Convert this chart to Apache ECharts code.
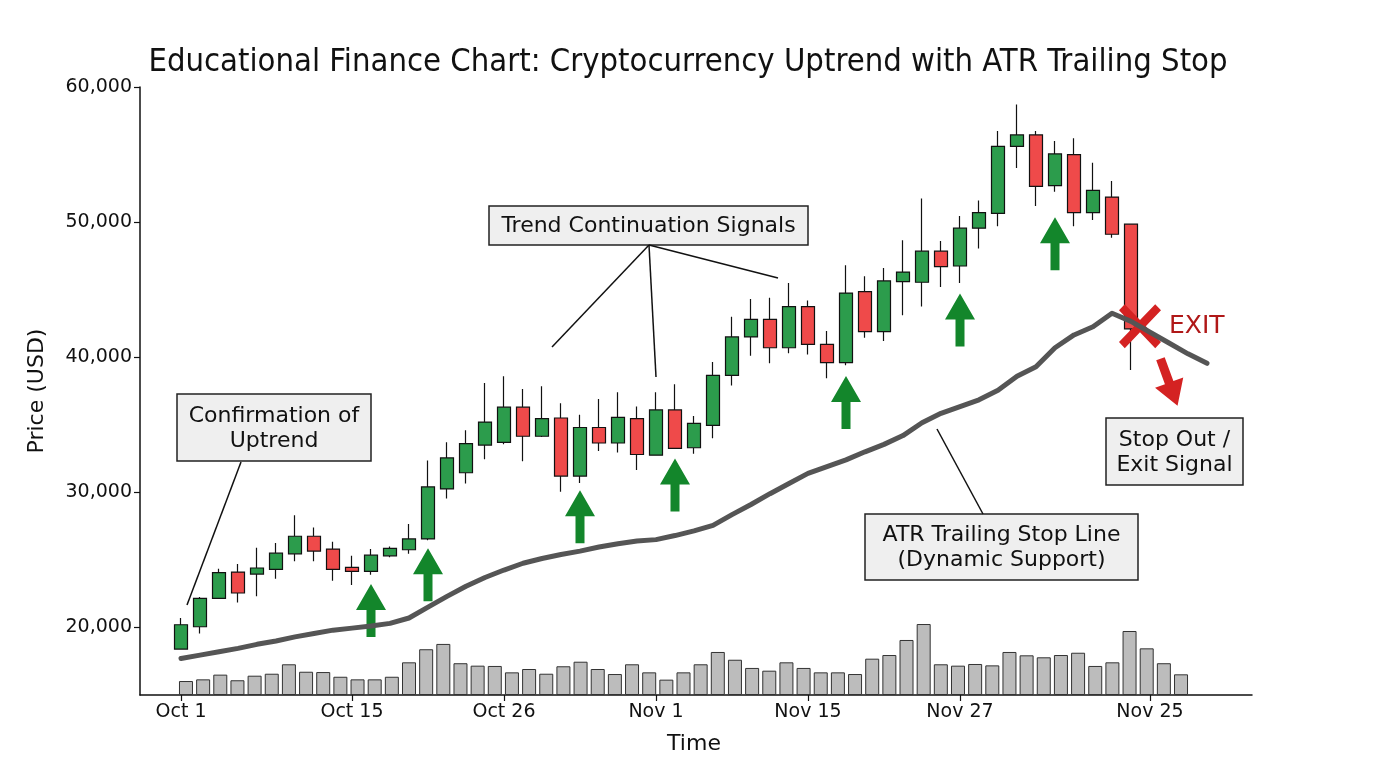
<!DOCTYPE html>
<html>
<head>
<meta charset="utf-8">
<title>Cryptocurrency Uptrend with ATR Trailing Stop</title>
<script src="https://cdn.jsdelivr.net/npm/echarts/dist/echarts.min.js"></script>
<style>
  html, body { margin: 0; padding: 0; background: #fff; }
  #chart { width: 1376px; height: 768px; }
</style>
</head>
<body>
<div id="chart"></div>
<script>
// x axis tick labels and the candle index each one sits on
var tickLabels = ['Oct 1', 'Oct 15', 'Oct 26', 'Nov 1', 'Nov 15', 'Nov 27', 'Nov 25'];
var tickIdx = [0, 9, 17, 25, 33, 41, 51];
var priceTicks = [20000, 30000, 40000, 50000, 60000];

// daily candles: open, close, low, high
var ohlc = [
  [18400, 20200, 18350, 20700],
  [20050, 22150, 19550, 22250],
  [22150, 24050, 22100, 24350],
  [24100, 22550, 21850, 24700],
  [23950, 24400, 22300, 25900],
  [24300, 25500, 23600, 26250],
  [25450, 26750, 24900, 28300],
  [26750, 25650, 24900, 27400],
  [25800, 24300, 23450, 26350],
  [24450, 24150, 23150, 25300],
  [24150, 25350, 23900, 25800],
  [25300, 25850, 25200, 26000],
  [25750, 26550, 25450, 27650],
  [26550, 30400, 26450, 32350],
  [30250, 32550, 29550, 33700],
  [31450, 33600, 30650, 34600],
  [33500, 35200, 32450, 38100],
  [33700, 36300, 33550, 38600],
  [36300, 34150, 32300, 37650],
  [34150, 35450, 34100, 37850],
  [35500, 31200, 30050, 36600],
  [31200, 34800, 30700, 35750],
  [34800, 33650, 33050, 36900],
  [33650, 35550, 32950, 37400],
  [35450, 32800, 31650, 36350],
  [32750, 36100, 32700, 37400],
  [36100, 33250, 33200, 38000],
  [33300, 35100, 32850, 35650],
  [34950, 38650, 34000, 39650],
  [38650, 41500, 37900, 43000],
  [41500, 42800, 40100, 44300],
  [42800, 40700, 39550, 44400],
  [40700, 43750, 40300, 45500],
  [43750, 40950, 40200, 44200],
  [40950, 39600, 38450, 41950],
  [39600, 44750, 39400, 46800],
  [44850, 41900, 41450, 46000],
  [41900, 45650, 41200, 46600],
  [45600, 46300, 43100, 48650],
  [45550, 47850, 43750, 51750],
  [47850, 46700, 45200, 48600],
  [46750, 49550, 45500, 50450],
  [49550, 50700, 48050, 51600],
  [50650, 55600, 49700, 56750],
  [55600, 56450, 54000, 58700],
  [56450, 52650, 51200, 56750],
  [52700, 55050, 52250, 56000],
  [55000, 50700, 49700, 56200],
  [50700, 52350, 50150, 54400],
  [51850, 49100, 48850, 53050],
  [49850, 42100, 39050, 49850]
];

// ATR trailing stop, one value per day (runs a few days past the last candle)
var atrStop = [
  17700, 17950, 18200, 18450, 18750, 19000, 19300, 19550, 19800, 19950,
  20100, 20300, 20700, 21500, 22300, 23050, 23700, 24250, 24750, 25100,
  25400, 25650, 25950, 26200, 26400, 26500, 26800, 27150, 27550, 28350,
  29100, 29900, 30650, 31400, 31900, 32400, 33000, 33550, 34200, 35150,
  35850, 36350, 36850, 37550, 38600, 39300, 40700, 41650, 42250, 43250,
  42650, 41850, 41050, 40250, 39550
];

// volume (thousands)
var volume = [
  0.92, 1.03, 1.34, 0.97, 1.27, 1.40, 2.02, 1.53, 1.51, 1.20,
  1.03, 1.03, 1.20, 2.15, 3.01, 3.36, 2.09, 1.93, 1.91, 1.49,
  1.71, 1.40, 1.89, 2.19, 1.71, 1.38, 2.02, 1.49, 1.01, 1.49,
  2.02, 2.83, 2.32, 1.78, 1.60, 2.15, 1.78, 1.49, 1.49, 1.38,
  2.39, 2.63, 3.62, 4.67, 2.02, 1.93, 2.04, 1.95, 2.83, 2.61,
  2.48, 2.63, 2.78, 1.91, 2.15, 4.21, 3.07, 2.09, 1.36
];

// continuation signals (candle index, arrow level)
var signalIdx = [10, 13, 21, 26, 35, 41, 46];
var signalPrice = [21250, 23900, 28200, 30550, 36650, 42750, 48400];
var exitIdx = 50, exitPrice = 42300;
var exitArrowIdx = 52, exitArrowPrice = 38150;

var days = atrStop.map(function (_, i) {
  var k = tickIdx.indexOf(i);
  return k >= 0 ? tickLabels[k] : '';
});

var FONT = 'DejaVu Sans';
var arrowPath = 'path://M15,0 L30,26 L19.5,26 L19.5,53 L10.5,53 L10.5,26 L0,26 Z';
var crossPath = 'path://M0,5.5 L5.5,0 L20,14.5 L34.5,0 L40,5.5 L25.5,20 L40,34.5 L34.5,40 L20,25.5 L5.5,40 L0,34.5 L14.5,20 Z';

function noteBox(x, y, w, h, text) {
  return {
    type: 'group', x: x, y: y, z: 100,
    children: [
      { type: 'rect', shape: { x: 0, y: 0, width: w, height: h },
        style: { fill: '#efefef', stroke: '#222', lineWidth: 1.5 } },
      { type: 'text', style: { text: text, x: w / 2, y: h / 2 + 1, align: 'center', verticalAlign: 'middle',
        fontSize: 22, fontFamily: FONT, fill: '#111', lineHeight: 25 } }
    ]
  };
}
function pointer(x1, y1, x2, y2) {
  return { type: 'line', z: 99, shape: { x1: x1, y1: y1, x2: x2, y2: y2 },
    style: { stroke: '#111', lineWidth: 1.5 } };
}

var chart = echarts.init(document.getElementById('chart'));
chart.setOption({
  backgroundColor: '#fff',
  animation: false,
  textStyle: { fontFamily: FONT },
  title: {
    text: 'Educational Finance Chart: Cryptocurrency Uptrend with ATR Trailing Stop',
    left: 'center', top: 41,
    textStyle: { fontSize: 32.5, fontWeight: 'normal', color: '#111', fontFamily: '"DejaVu Sans Condensed", "DejaVu Sans"' }
  },
  grid: [
    { left: 140, right: 124, top: 87, bottom: 73 },     // frame
    { left: 171.5, right: 159.5, top: 87, bottom: 73 }, // candles
    { left: 177.4, right: 186.4, top: 87, bottom: 73 }  // volume
  ],
  xAxis: [
    { gridIndex: 0, type: 'value', min: 0, max: 1,
      axisLine: { show: true, lineStyle: { color: '#111', width: 1.5 } },
      axisTick: { show: false }, axisLabel: { show: false }, splitLine: { show: false } },
    { gridIndex: 1, type: 'category', data: days, boundaryGap: true,
      axisLine: { show: false },
      axisTick: { show: true, alignWithLabel: true, length: 6,
        interval: function (i) { return tickIdx.indexOf(i) >= 0; },
        lineStyle: { color: '#111', width: 1.2 } },
      axisLabel: { interval: 0, fontSize: 19, color: '#111', margin: 8, fontFamily: FONT },
      splitLine: { show: false },
      name: 'Time', nameLocation: 'middle', nameGap: 38,
      nameTextStyle: { fontSize: 22, color: '#111', fontFamily: FONT } },
    { gridIndex: 2, type: 'category', data: volume.map(function (_, i) { return i; }), show: false }
  ],
  yAxis: [
    { gridIndex: 0, type: 'value', min: 15000, max: 60000,
      axisLine: { show: true, lineStyle: { color: '#111', width: 1.5 } },
      axisTick: { show: true, length: 6, customValues: priceTicks, lineStyle: { color: '#111', width: 1.2 } },
      axisLabel: { customValues: priceTicks, fontSize: 19, color: '#111', margin: 8, fontFamily: FONT,
        formatter: function (v) { return v.toLocaleString('en-US'); } },
      splitLine: { show: false },
      name: 'Price (USD)', nameLocation: 'middle', nameGap: 92, nameRotate: 90,
      nameTextStyle: { fontSize: 22, color: '#111', fontFamily: FONT } },
    { gridIndex: 1, type: 'value', min: 15000, max: 60000, show: false },
    { gridIndex: 2, type: 'value', min: 0, max: 40, show: false }
  ],
  series: [
    {
      name: 'Volume', type: 'bar', xAxisIndex: 2, yAxisIndex: 2,
      barWidth: 14, data: volume,
      itemStyle: { color: '#bcbcbc', borderColor: '#333', borderWidth: 1 }
    },
    {
      name: 'Price', type: 'candlestick', xAxisIndex: 1, yAxisIndex: 1,
      barWidth: 14, data: ohlc,
      itemStyle: { color: '#2c9c4c', color0: '#ef4a4a', borderColor: '#111', borderColor0: '#111', borderWidth: 1.2 }
    },
    {
      name: 'ATR Trailing Stop', type: 'line', xAxisIndex: 1, yAxisIndex: 1,
      data: atrStop, symbol: 'none',
      lineStyle: { color: '#555', width: 5, join: 'round', cap: 'round' }
    },
    {
      name: 'Signals', type: 'scatter', xAxisIndex: 1, yAxisIndex: 1,
      symbol: arrowPath, symbolSize: [30, 53],
      itemStyle: { color: '#13862b', opacity: 1 },
      data: signalIdx.map(function (x, k) { return [x, signalPrice[k]]; })
    },
    {
      name: 'Exit', type: 'scatter', xAxisIndex: 1, yAxisIndex: 1,
      symbol: crossPath, symbolSize: [42, 44], symbolOffset: [9, 0],
      itemStyle: { color: '#d42222', opacity: 1 },
      label: { show: true, position: 'right', distance: 8, formatter: 'EXIT',
        color: '#b01818', fontSize: 25, fontFamily: FONT },
      data: [[exitIdx, exitPrice]]
    },
    {
      name: 'Exit arrow', type: 'scatter', xAxisIndex: 1, yAxisIndex: 1,
      symbol: arrowPath, symbolSize: [30, 50], symbolRotate: 200,
      itemStyle: { color: '#d42222', opacity: 1 },
      data: [[exitArrowIdx, exitArrowPrice]]
    }
  ],
  graphic: [
    pointer(241, 462, 187, 605),
    pointer(649, 245, 552, 347),
    pointer(649, 245, 656, 377),
    pointer(649, 245, 778, 278),
    pointer(983, 514, 937, 429),
    noteBox(177, 394, 194, 67, 'Confirmation of\nUptrend'),
    noteBox(489, 206, 319, 39, 'Trend Continuation Signals'),
    noteBox(865, 514, 273, 66, 'ATR Trailing Stop Line\n(Dynamic Support)'),
    noteBox(1106, 418, 137, 67, 'Stop Out /\nExit Signal')
  ]
});
</script>
</body>
</html>
